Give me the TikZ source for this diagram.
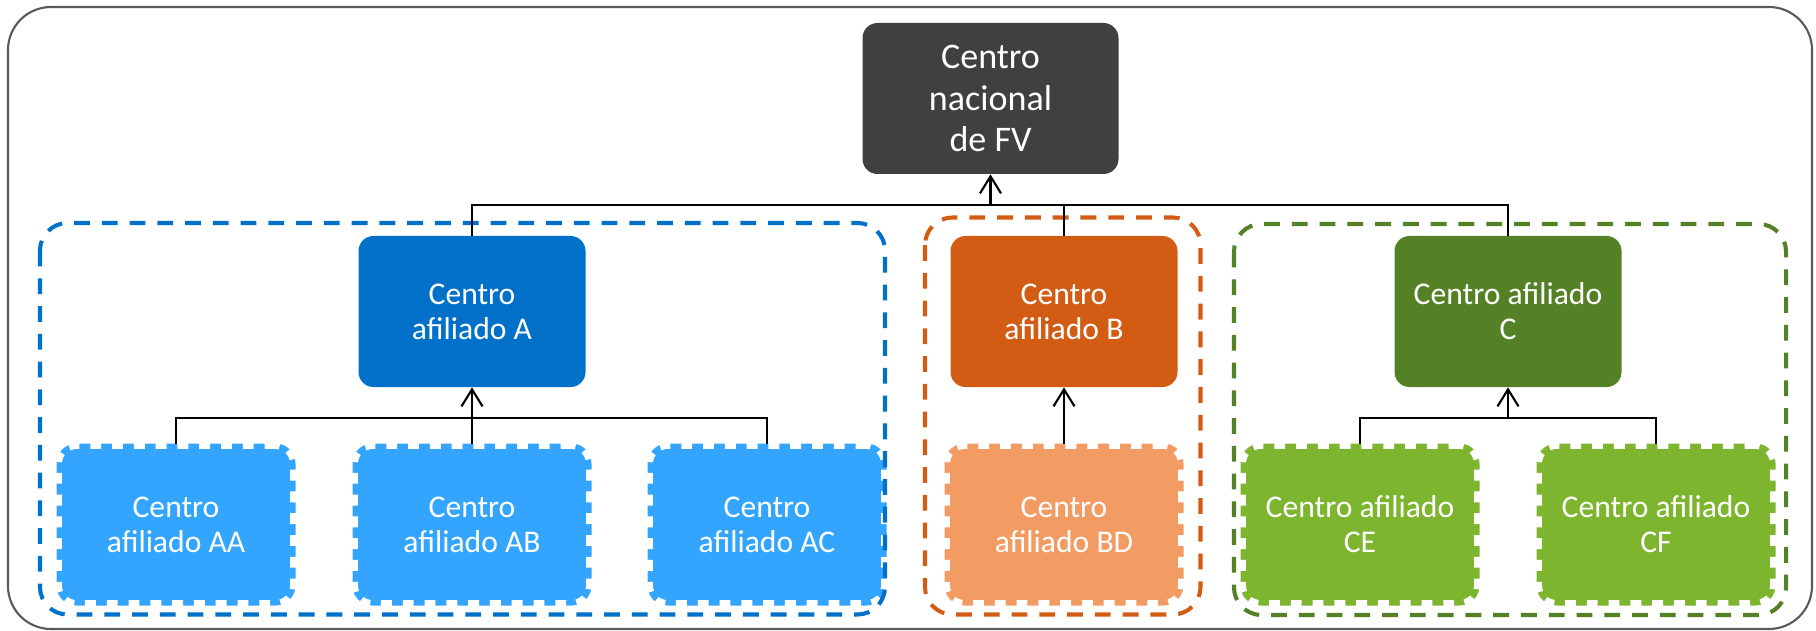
\documentclass[tikz,border=0pt]{standalone}
\usepackage{fontspec}
\setmainfont{Carlito}
\usetikzlibrary{arrows.meta, positioning}

\definecolor{gris}{HTML}{404040}
\definecolor{borde}{HTML}{595959}
\definecolor{azul}{HTML}{0070C8}
\definecolor{azulclaro}{HTML}{34A5FF}
\definecolor{naranja}{HTML}{D35C14}
\definecolor{naranjaclaro}{HTML}{F29C63}
\definecolor{verde}{HTML}{548125}
\definecolor{verdeclaro}{HTML}{7DB52F}

\tikzstyle{nacional} = [rectangle, rounded corners=0.3cm, fill=gris, text=white, align=center, minimum width=5.12cm, minimum height=3.02cm, font=\fontsize{20.5}{23.5}\selectfont]
\tikzstyle{centro} = [rectangle, rounded corners=0.3cm, text=white, align=center, minimum width=4.54cm, minimum height=3.02cm, font=\fontsize{18}{20}\selectfont]
\tikzstyle{afiliado} = [rectangle, rounded corners=0.4cm, draw=white, line width=6.2pt, dash pattern=on 6.2pt off 6.2pt, outer sep=0pt, text=white, align=center, minimum width=4.78cm, minimum height=3.24cm, font=\fontsize{18}{20}\selectfont]
\tikzstyle{arrow} = [line width=1.2pt, -{Straight Barb[length=3.4mm, width=4.2mm]}]
\tikzstyle{conector} = [line width=1.2pt]
\tikzstyle{grupo} = [line width=2.3pt, dash pattern=on 9pt off 6.8pt, rounded corners=0.55cm]

\begin{document}
\begin{tikzpicture}[node distance=4.26cm]

    \useasboundingbox (0,0) rectangle (36.32,-12.62);

    % Marco
    \draw [borde, line width=1.2pt, rounded corners=0.86cm] (0.16,-0.14) rectangle (36.24,-12.58);

    % Centro nacional
    \node (nat) [nacional] at (19.81,-1.97) {Centro\\nacional\\de FV};

    % Centros afiliados
    \node (A) [centro, fill=azul, below of=nat, xshift=-10.37cm] {Centro\\afiliado A};
    \node (B) [centro, fill=naranja, below of=nat, xshift=1.47cm] {Centro\\afiliado B};
    \node (C) [centro, fill=verde, below of=nat, xshift=10.35cm] {Centro afiliado\\C};

    % Sub-centros
    \node (AB) [afiliado, fill=azulclaro, below of=A] {Centro\\afiliado AB};
    \node (AA) [afiliado, fill=azulclaro, left of=AB, xshift=-1.66cm] {Centro\\afiliado AA};
    \node (AC) [afiliado, fill=azulclaro, right of=AB, xshift=1.64cm] {Centro\\afiliado AC};

    \node (BD) [afiliado, fill=naranjaclaro, below of=B] {Centro\\afiliado BD};

    \node (CE) [afiliado, fill=verdeclaro, below of=C, xshift=-2.96cm] {Centro afiliado\\CE};
    \node (CF) [afiliado, fill=verdeclaro, below of=C, xshift=2.96cm] {Centro afiliado\\CF};

    % Grupos
    \draw [grupo, azul] (0.8,-4.46) rectangle (17.7,-12.29);
    \draw [grupo, naranja] (18.5,-4.35) rectangle (24.01,-12.29);
    \draw [grupo, verde] (24.68,-4.48) rectangle (35.72,-12.3);

    % ==== Conexiones
    \coordinate [below=0.62cm of nat] (topbus);
    \coordinate [below=0.62cm of A] (abus);
    \coordinate [below=0.62cm of C] (cbus);

    \draw [conector] (A.north) |- (topbus);
    \draw [conector] (B.north) |- (topbus);
    \draw [conector] (C.north) |- (topbus);
    \draw [arrow] (topbus) -- (nat);

    \draw [conector] (AA.north) |- (abus);
    \draw [conector] (AC.north) |- (abus);
    \draw [arrow] (AB) -- (A);

    \draw [arrow] (BD) -- (B);

    \draw [conector] (CE.north) |- (cbus);
    \draw [conector] (CF.north) |- (cbus);
    \draw [arrow] (cbus) -- (C);

\end{tikzpicture}
\end{document}
